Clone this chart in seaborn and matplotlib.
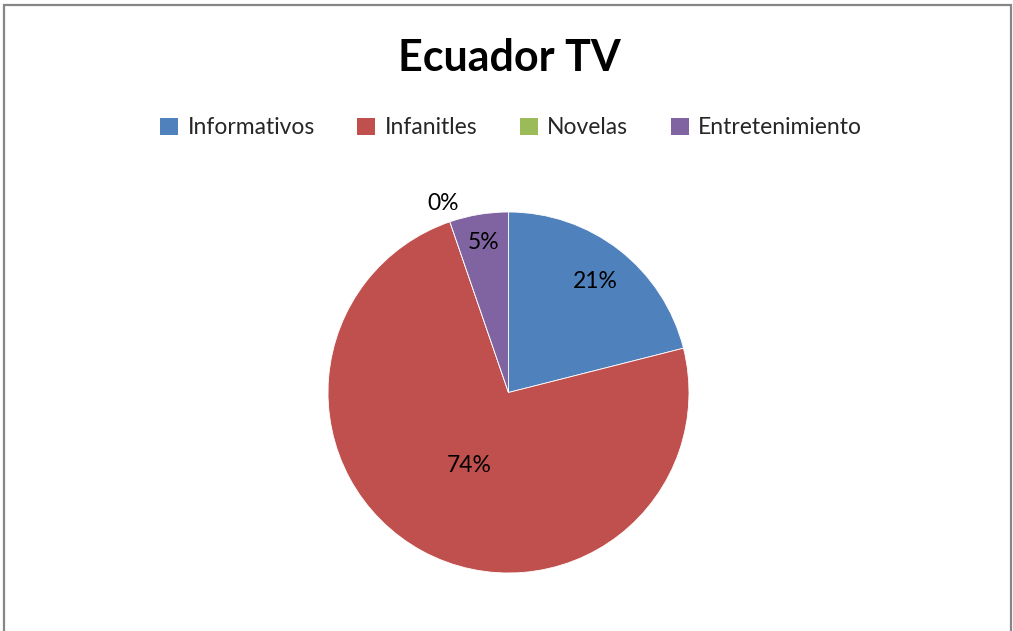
import matplotlib
matplotlib.use('Agg')

import numpy as np
import matplotlib.pyplot as plt
import seaborn as sns
from matplotlib.patches import Rectangle, Patch

# --------------------------------------------------------------------------- #
# DATA
# --------------------------------------------------------------------------- #
categories = ["Informativos", "Infanitles", "Novelas", "Entretenimiento"]
counts = [4, 14, 0, 1]
colors = ["#4F81BD", "#C0504D", "#9BBB59", "#8064A2"]
label_dist = [0.78, 0.46, 1.11, 0.84]   # where each % label sits (fraction of radius)
title = "Ecuador TV"

# --------------------------------------------------------------------------- #
# PLOT
# --------------------------------------------------------------------------- #
sns.set_theme(style="white")
plt.rcParams['font.family'] = ['Lato', 'DejaVu Sans']

W, H = 1013, 631
fig = plt.figure(figsize=(W / 100, H / 100), dpi=100)

# outer chart border (bottom runs off the picture)
fig.patches.append(Rectangle((3.5 / W, -0.05), 1007.5 / W, 1 - 5.5 / H + 0.05,
                             transform=fig.transFigure, fill=False,
                             edgecolor="#868686", linewidth=1.6))

cx, cy, r = 508.5, 392.5, 180.5
ax = fig.add_axes([(cx - r) / W, (H - cy - r) / H, 2 * r / W, 2 * r / H])

wedges, _ = ax.pie(counts, colors=sns.color_palette(colors), startangle=90,
                   counterclock=False, radius=1,
                   wedgeprops=dict(edgecolor="white", linewidth=0.6))
ax.set_xlim(-1, 1)
ax.set_ylim(-1, 1)
ax.set_aspect("auto")
ax.axis("off")

total = sum(counts)
for w, c, d in zip(wedges, counts, label_dist):
    ang = np.deg2rad((w.theta1 + w.theta2) / 2)
    ax.text(d * np.cos(ang), d * np.sin(ang), f"{c / total * 100:.0f}%",
            ha="center", va="center", fontsize=16.5, color="black")

fig.text(509 / W, 1 - 58 / H, title, ha="center", va="center",
         fontsize=31, fontweight="bold", color="black")

handles = [Patch(facecolor=col, edgecolor="none") for col in colors]
fig.legend(handles, categories, loc="center", bbox_to_anchor=(511 / W, 1 - 128 / H),
           ncol=4, frameon=False, fontsize=16.5, handlelength=0.8, handleheight=0.8,
           handletextpad=0.4, columnspacing=1.85)

fig.savefig("out.png", dpi=100)
plt.close(fig)
